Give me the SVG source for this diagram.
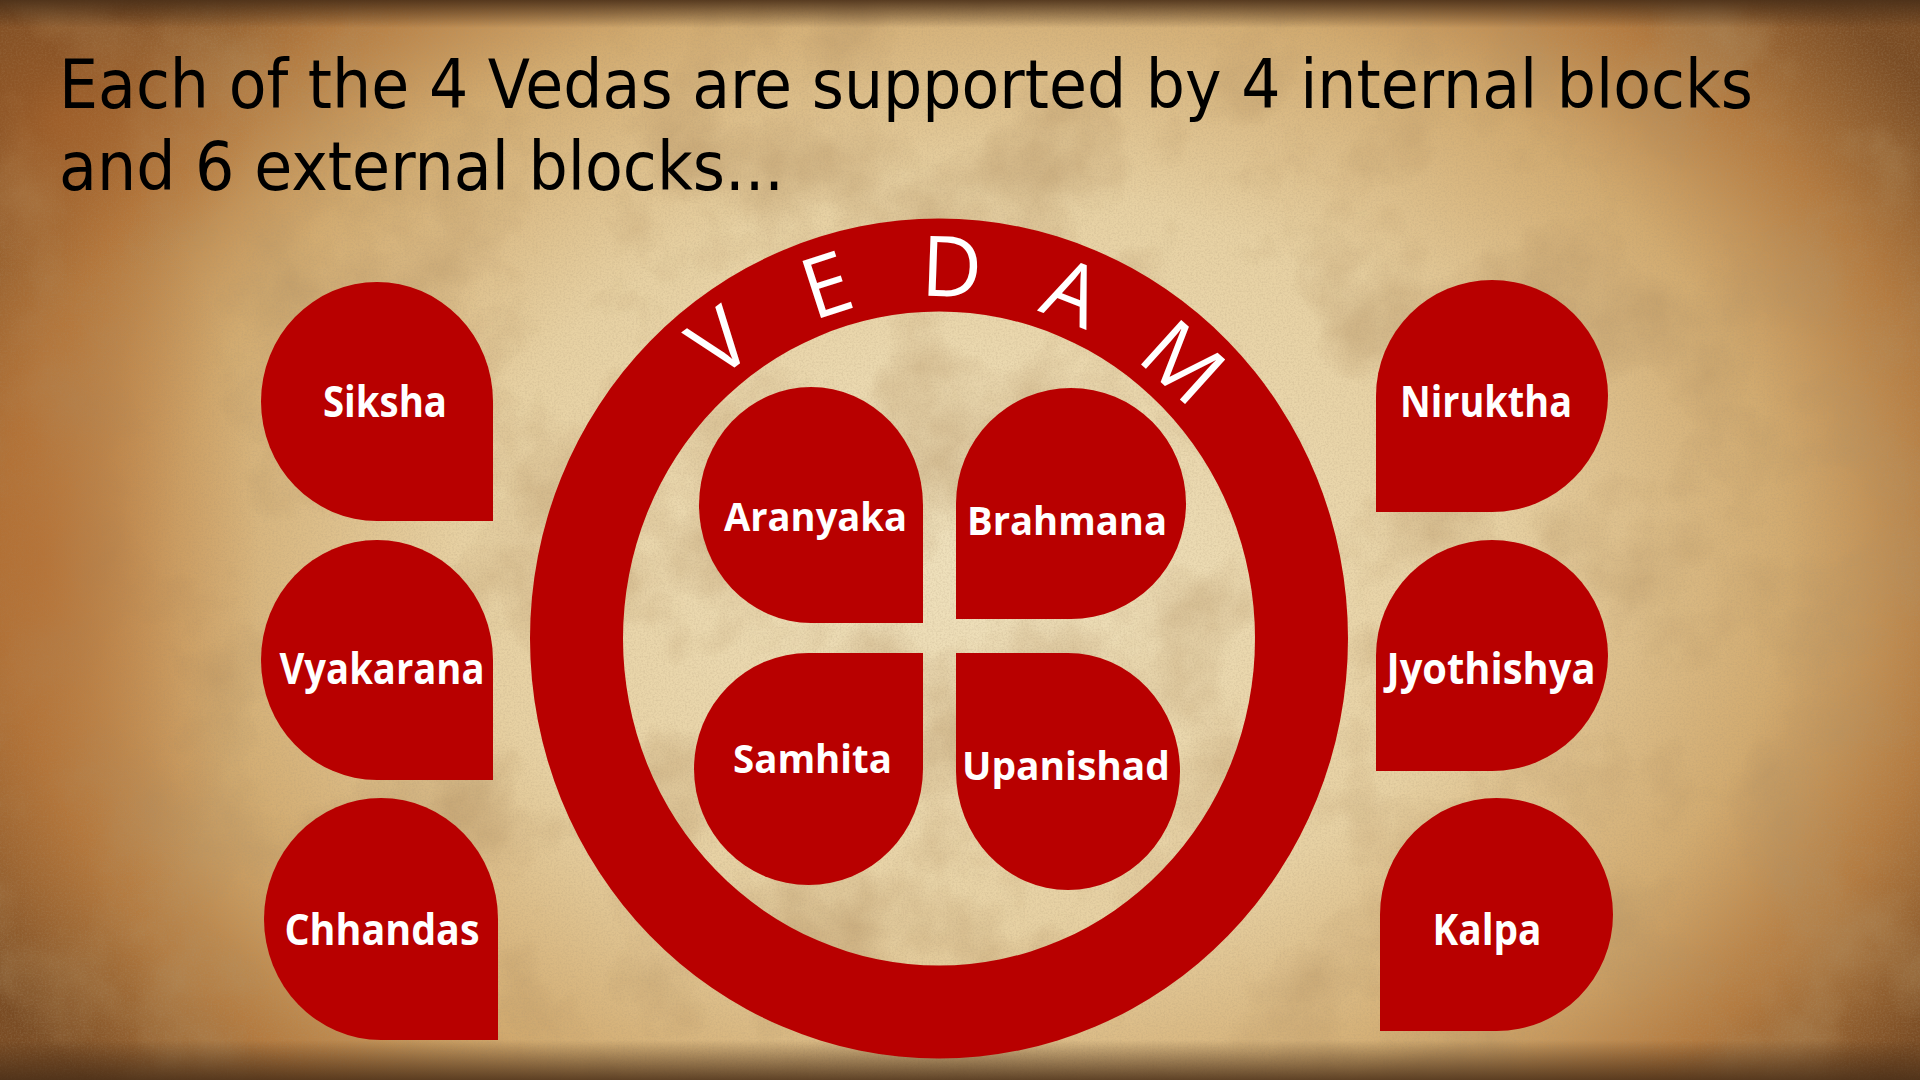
<svg xmlns="http://www.w3.org/2000/svg" width="1920" height="1080" viewBox="0 0 1920 1080">
  <style>
    .red { fill: #b80000; }
    .lbl { fill: #ffffff; font-family: "Open Sans", "Liberation Sans", sans-serif; font-weight: 700; text-anchor: middle; }
    .outer { font-size: 43px; }
    .inner { font-size: 40px; }
    .title { fill: #000000; font-family: "DejaVu Sans", "Liberation Sans", sans-serif; font-size: 68px; }
    .ved { fill: #ffffff; font-family: "Open Sans", "Liberation Sans", sans-serif; font-weight: 400; font-size: 84px; text-anchor: middle; }
  </style>
  <defs>
    <radialGradient id="vign" cx="980" cy="560" r="1150" gradientUnits="userSpaceOnUse" gradientTransform="translate(980 560) scale(1 0.72) translate(-980 -560)">
      <stop offset="0" stop-color="#efe1bd"/>
      <stop offset="0.45" stop-color="#e7d1a3"/>
      <stop offset="0.7" stop-color="#d2ab70"/>
      <stop offset="0.85" stop-color="#b47b40"/>
      <stop offset="1" stop-color="#7a4c24"/>
    </radialGradient>
    <linearGradient id="topband" x1="0" y1="0" x2="0" y2="1">
      <stop offset="0" stop-color="#4a2f18" stop-opacity="0.9"/>
      <stop offset="1" stop-color="#4a2f18" stop-opacity="0"/>
    </linearGradient>
    <linearGradient id="botband" x1="0" y1="1" x2="0" y2="0">
      <stop offset="0" stop-color="#4a2f18" stop-opacity="0.85"/>
      <stop offset="1" stop-color="#4a2f18" stop-opacity="0"/>
    </linearGradient>
    <radialGradient id="leftpatch" cx="0.5" cy="0.5" r="0.5">
      <stop offset="0" stop-color="#b0652a" stop-opacity="0.55"/>
      <stop offset="1" stop-color="#b0652a" stop-opacity="0"/>
    </radialGradient>
    <filter id="mottle" x="0" y="0" width="100%" height="100%">
      <feTurbulence type="fractalNoise" baseFrequency="0.008" numOctaves="5" seed="7" result="n"/>
      <feColorMatrix in="n" type="matrix" values="0 0 0 0 0.45  0 0 0 0 0.28  0 0 0 0 0.12  0 0 0 2.2 -1.0"/>
    </filter>
    <filter id="grain" x="0" y="0" width="100%" height="100%">
      <feTurbulence type="fractalNoise" baseFrequency="0.55" numOctaves="2" seed="2" result="g"/>
      <feColorMatrix in="g" type="matrix" values="0 0 0 0 0.4  0 0 0 0 0.3  0 0 0 0 0.18  0 0 0 1.4 -0.55"/>
    </filter>
  </defs>

  <g id="background">
    <rect x="0" y="0" width="1920" height="1080" fill="url(#vign)"/>
    <rect x="0" y="0" width="1920" height="1080" filter="url(#mottle)" opacity="0.55"/>
    <rect x="0" y="0" width="1920" height="1080" filter="url(#grain)" opacity="0.35"/>
    <ellipse cx="40" cy="560" rx="220" ry="420" fill="url(#leftpatch)"/>
    <ellipse cx="60" cy="120" rx="200" ry="160" fill="url(#leftpatch)"/>
    <rect x="0" y="0" width="1920" height="28" fill="url(#topband)"/>
    <rect x="0" y="1040" width="1920" height="40" fill="url(#botband)"/>
  </g>

  <g id="title">
    <text class="title" x="59" y="108" textLength="1694" lengthAdjust="spacingAndGlyphs">Each of the 4 Vedas are supported by 4 internal blocks</text>
    <text class="title" x="59" y="190" textLength="725" lengthAdjust="spacingAndGlyphs">and 6 external blocks...</text>
  </g>

  <g id="vedam">
    <path class="red" fill-rule="evenodd" d="M530 638.5 a409 420 0 1 0 818 0 a409 420 0 1 0 -818 0 Z M623 638.5 a316 327 0 1 0 632 0 a316 327 0 1 0 -632 0 Z"/>
    <g id="vedam-label">
      <text class="ved" transform="translate(719.3 341.4) rotate(-37)" y="30">V</text>
      <text class="ved" transform="translate(826.2 284.7) rotate(-18)" y="30">E</text>
      <text class="ved" transform="translate(951.7 266.7) rotate(2)" y="30">D</text>
      <text class="ved" transform="translate(1072.8 292.4) rotate(21.5)" y="30">A</text>
      <text class="ved" transform="translate(1183.2 362) rotate(42)" y="30">M</text>
    </g>
  </g>

  <g id="aranyaka">
    <path class="red" d="M923 623 L923 505 A112 118 0 0 0 811 387 A112 118 0 0 0 699 505 A112 118 0 0 0 811 623 Z"/>
    <text class="lbl inner" x="815.5" y="531" textLength="183" lengthAdjust="spacingAndGlyphs">Aranyaka</text>
  </g>
  <g id="brahmana">
    <path class="red" d="M956 619 L1071 619 A115 115.5 0 0 0 1186 503.5 A115 115.5 0 0 0 1071 388 A115 115.5 0 0 0 956 503.5 Z"/>
    <text class="lbl inner" x="1067" y="535" textLength="200" lengthAdjust="spacingAndGlyphs">Brahmana</text>
  </g>
  <g id="samhita">
    <path class="red" d="M923 653 L923 769 A114.5 116 0 0 1 808.5 885 A114.5 116 0 0 1 694 769 A114.5 116 0 0 1 808.5 653 Z"/>
    <text class="lbl inner" x="812.5" y="773" textLength="159" lengthAdjust="spacingAndGlyphs">Samhita</text>
  </g>
  <g id="upanishad">
    <path class="red" d="M956 653 L1068 653 A112 118.5 0 0 1 1180 771.5 A112 118.5 0 0 1 1068 890 A112 118.5 0 0 1 956 771.5 Z"/>
    <text class="lbl inner" x="1066" y="780" textLength="208" lengthAdjust="spacingAndGlyphs">Upanishad</text>
  </g>

  <g id="siksha">
    <path class="red" d="M493 521 L493 401.5 A116 119.5 0 0 0 377 282 A116 119.5 0 0 0 261 401.5 A116 119.5 0 0 0 377 521 Z"/>
    <text class="lbl outer" x="385" y="417" textLength="124" lengthAdjust="spacingAndGlyphs">Siksha</text>
  </g>
  <g id="vyakarana">
    <path class="red" d="M493 780 L493 660 A116 120 0 0 0 377 540 A116 120 0 0 0 261 660 A116 120 0 0 0 377 780 Z"/>
    <text class="lbl outer" x="382" y="684" textLength="205" lengthAdjust="spacingAndGlyphs">Vyakarana</text>
  </g>
  <g id="chhandas">
    <path class="red" d="M498 1040 L498 919 A117 121 0 0 0 381 798 A117 121 0 0 0 264 919 A117 121 0 0 0 381 1040 Z"/>
    <text class="lbl outer" x="382" y="945" textLength="195" lengthAdjust="spacingAndGlyphs">Chhandas</text>
  </g>

  <g id="niruktha">
    <path class="red" d="M1376 512 L1492 512 A116 116 0 0 0 1608 396 A116 116 0 0 0 1492 280 A116 116 0 0 0 1376 396 Z"/>
    <text class="lbl outer" x="1486" y="417" textLength="172" lengthAdjust="spacingAndGlyphs">Niruktha</text>
  </g>
  <g id="jyothishya">
    <path class="red" d="M1376 771 L1492 771 A116 115.5 0 0 0 1608 655.5 A116 115.5 0 0 0 1492 540 A116 115.5 0 0 0 1376 655.5 Z"/>
    <text class="lbl outer" x="1491" y="684" textLength="209" lengthAdjust="spacingAndGlyphs">Jyothishya</text>
  </g>
  <g id="kalpa">
    <path class="red" d="M1380 1031 L1496.5 1031 A116.5 116.5 0 0 0 1613 914.5 A116.5 116.5 0 0 0 1496.5 798 A116.5 116.5 0 0 0 1380 914.5 Z"/>
    <text class="lbl outer" x="1487" y="945" textLength="109" lengthAdjust="spacingAndGlyphs">Kalpa</text>
  </g>

  <g id="connectors"/>
</svg>
